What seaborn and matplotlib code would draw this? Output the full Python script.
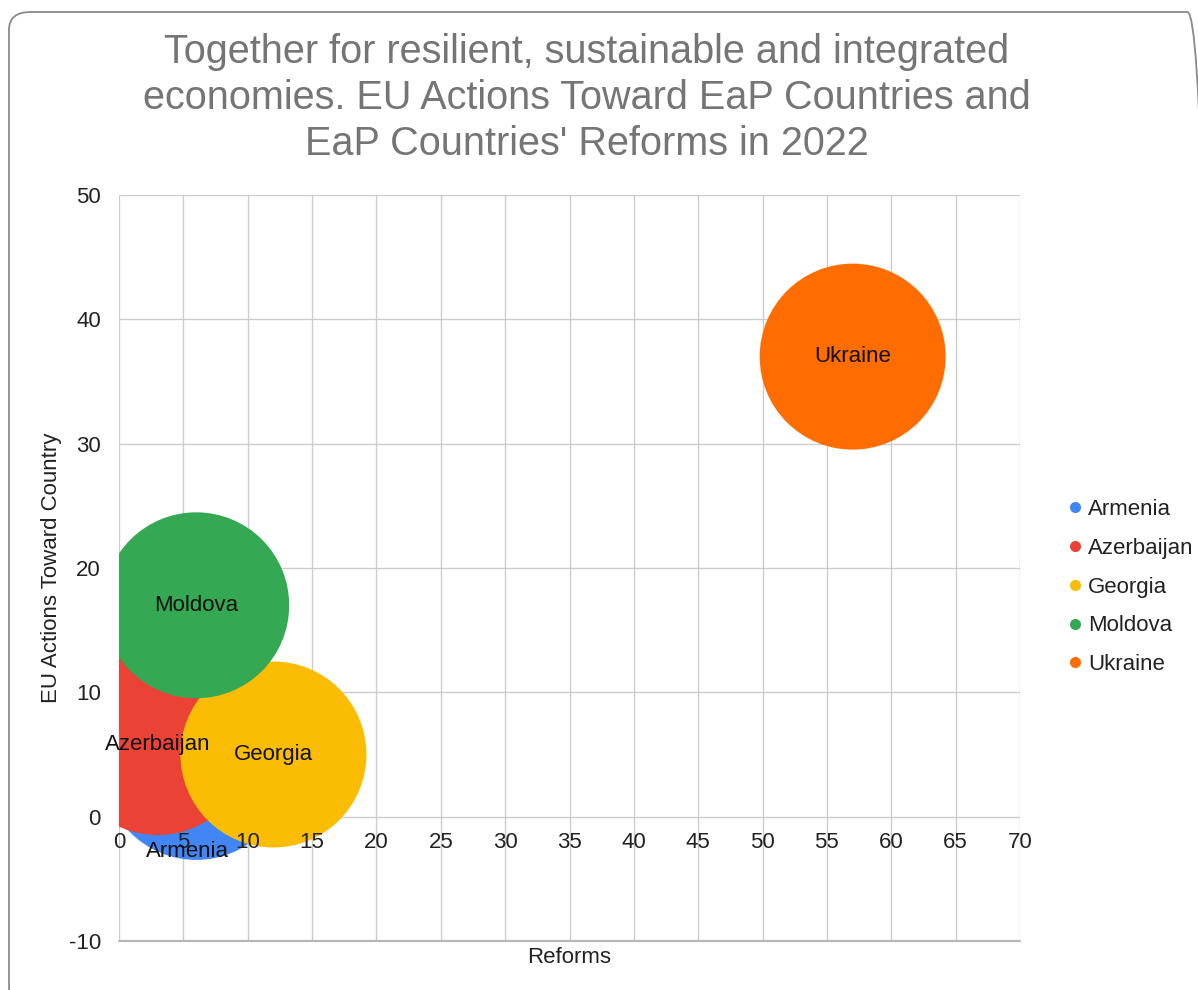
import matplotlib
matplotlib.use("Agg")
import matplotlib.pyplot as plt
from matplotlib.lines import Line2D
from matplotlib.patches import FancyBboxPatch
import seaborn as sns
import pandas as pd

# ---- data ----
countries = ["Armenia", "Azerbaijan", "Georgia", "Moldova", "Ukraine"]
reforms = [6, 3, 12, 6, 57]
eu_actions = [4, 6, 5, 17, 37]
colors = ["#4285F4", "#EA4335", "#FBBC04", "#34A853", "#FF6D01"]
x_ticks = list(range(0, 71, 5))
y_ticks = list(range(-10, 51, 10))

title = ("Together for resilient, sustainable and integrated\n"
         "economies. EU Actions Toward EaP Countries and\n"
         "EaP Countries' Reforms in 2022")

# label offsets (points) for bubble text placement
label_offsets = {"Armenia": (-6.5, -61), "Azerbaijan": (0, -2), "Georgia": (0, 0),
                 "Moldova": (0, 0), "Ukraine": (0, 0)}

df = pd.DataFrame({"Country": countries, "Reforms": reforms, "EU": eu_actions})

sns.set_style("white")
plt.rcParams["font.family"] = ["Liberation Sans", "DejaVu Sans"]
plt.rcParams["axes.unicode_minus"] = False

FS = 16

fig = plt.figure(figsize=(11.98, 9.9), dpi=100)
ax = fig.add_axes([119 / 1198, 1 - 941 / 990, 901 / 1198, 746 / 990])

sns.scatterplot(data=df, x="Reforms", y="EU", hue="Country", hue_order=countries,
                palette=colors, s=17930, linewidth=0, alpha=1, legend=False,
                ax=ax, zorder=2)

ax.set_xlim(0, 70)
ax.set_ylim(-10, 50)
ax.set_xticks(x_ticks)
ax.set_yticks(y_ticks)
ax.set_axisbelow(True)
ax.grid(True, color="#cccccc", linewidth=1)
for s in ax.spines.values():
    s.set_visible(False)
ax.axhline(-10, color="#b7b7b7", linewidth=1.6, zorder=1, clip_on=False)

ax.tick_params(axis="x", length=0, labelbottom=False)
ax.tick_params(axis="y", length=0, pad=13, labelsize=FS, labelcolor="#222222")

# x tick labels drawn at y = 0, on top of bubbles
for t in x_ticks:
    ax.annotate(str(t), xy=(t, 0), xytext=(0, -18.5), textcoords="offset points",
                ha="center", va="center", fontsize=FS, color="#222222",
                zorder=6, annotation_clip=False)

# bubble labels
for c, xv, yv in zip(countries, reforms, eu_actions):
    ax.annotate(c, xy=(xv, yv), xytext=label_offsets[c], textcoords="offset points",
                ha="center", va="center", fontsize=FS, color="#111111", zorder=7,
                annotation_clip=False)

ax.set_xlabel("Reforms", fontsize=FS, color="#222222")
ax.set_ylabel("EU Actions Toward Country", fontsize=FS, color="#222222")
ax.xaxis.set_label_coords(0.5, -0.008)
ax.yaxis.set_label_coords(-0.0635, 0.5)

# legend
handles = [Line2D([0], [0], marker="o", linestyle="", markersize=8,
                  markerfacecolor=col, markeredgewidth=0) for col in colors]
fig.legend(handles, countries, loc="center left", bbox_to_anchor=(0.875, 0.407),
           frameon=False, fontsize=FS, handlelength=0.6, handletextpad=0.3,
           labelspacing=0.8, labelcolor="#222222")

fig.text(0.49, 0.967, title, ha="center", va="top", fontsize=28.5,
         color="#757575", linespacing=1.28)

# slide frame
frame = FancyBboxPatch((9 / 1198, -15 / 990), 1200 / 1198, 993 / 990,
                       boxstyle="round,pad=0,rounding_size=0.018",
                       transform=fig.transFigure, fill=False,
                       edgecolor="#8a8a8a", linewidth=1.3, clip_on=False)
fig.patches.append(frame)

fig.savefig("out.png", dpi=100)
